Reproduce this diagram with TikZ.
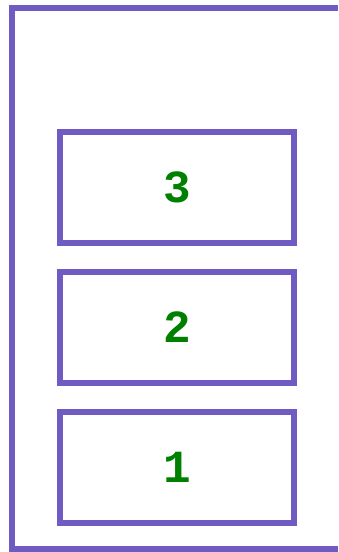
\documentclass[tikz,border=0pt]{standalone}
\usepackage{fontspec}
\usepackage{xcolor}
\usepackage{tikz}
\usetikzlibrary{positioning}
\newfontfamily\stackfont{Liberation Mono}
\definecolor{frame}{HTML}{6F5BC1}
\definecolor{digit}{HTML}{008000}

\begin{document}
\begin{tikzpicture}[x=0.5pt, y=-0.5pt,
      slot/.style={draw=frame, line width=3pt, outer sep=0pt, minimum width=116.7pt, minimum height=55.5pt, text=digit, font=\stackfont\bfseries\fontsize{23}{26}\selectfont},
      wall/.style={draw=frame, line width=3pt}
    ]
    \useasboundingbox (0,0) rectangle (338,552);
    \coordinate (topR) at (338,8);
    \coordinate (topL) at (11.7,8);
    \coordinate (botL) at (11.7,549);
    \coordinate (botR) at (338,549);

    \node[slot] (s3) at (177,187.5) {3};
    \node[slot, below=14.5pt of s3] (s2) {2};
    \node[slot, below=14.5pt of s2] (s1) {1};

    \draw[wall] (topR) -- (topL) -- (botL) -- (botR);
  \end{tikzpicture}
\end{document}
